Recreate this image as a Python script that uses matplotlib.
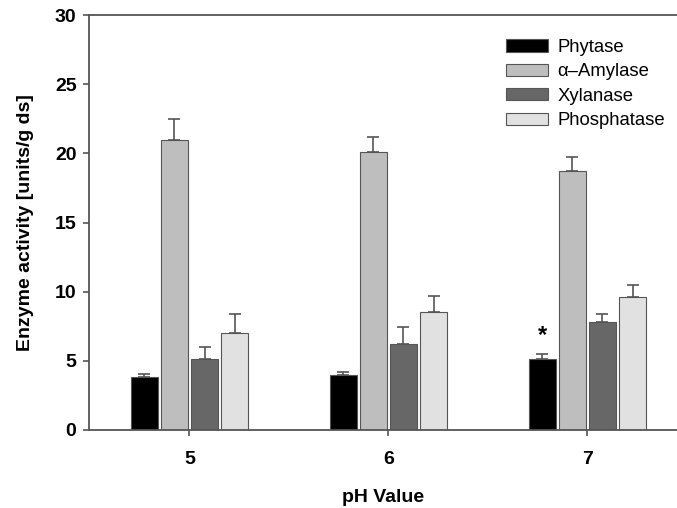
import numpy as np
import matplotlib
matplotlib.use("Agg")
import matplotlib.pyplot as plt

plt.rcParams['font.family'] = ['Liberation Sans', 'DejaVu Sans']

# == 데이터 ====================================================================
ph_values = ['5', '6', '7']
enzymes   = ['Phytase', 'α–Amylase', 'Xylanase', 'Phosphatase']

phytase      = [3.8, 3.95, 5.15]
amylase      = [21.0, 20.1, 18.75]
xylanase     = [5.1, 6.25, 7.8]
phosphatase  = [7.0, 8.55, 9.6]

phytase_err     = [0.25, 0.25, 0.35]
amylase_err     = [1.45, 1.1, 1.0]
xylanase_err    = [0.9, 1.2, 0.55]
phosphatase_err = [1.4, 1.15, 0.9]

colors = ['#000000', '#bebebe', '#676767', '#e1e1e1']

# == 플롯 ======================================================================
fig = plt.figure(figsize=(6.77, 5.08), dpi=100)
ax = fig.add_axes([89/677, 78/508, 1 - 89/677, 415/508])

x = np.arange(len(ph_values))
width = 0.136
step = 0.151
series = [(phytase, phytase_err), (amylase, amylase_err),
          (xylanase, xylanase_err), (phosphatase, phosphatase_err)]
edge = '#555555'
for i, ((vals, errs), color, label) in enumerate(zip(series, colors, enzymes)):
    pos = x + (i - 1.5) * step
    ax.bar(pos, vals, width, color=color, edgecolor=edge, linewidth=0.8, label=label, zorder=2)
    ax.errorbar(pos, vals, yerr=[np.zeros(len(errs)), errs], fmt='none',
                ecolor=edge, elinewidth=1.2, capsize=4, capthick=1.2, zorder=1)

# 유의성 표시 (pH 7, Phytase)
ax.text(x[2] - 1.5 * step, phytase[2] + phytase_err[2] + 1.3, '*',
        ha='center', va='center', fontsize=17, fontweight='bold')

ax.set_xlim(-0.505, 2.45)
ax.set_ylim(0, 30)
ax.set_xticks(x)
ax.set_xticklabels(ph_values)
ax.set_yticks([0, 5, 10, 15, 20, 25, 30])
ax.tick_params(axis='both', direction='out', length=4, width=1.2, color=edge,
               labelsize=14, pad=11)
ax.tick_params(axis='y', pad=5)
for t in ax.get_xticklabels() + ax.get_yticklabels():
    t.set_fontweight('bold')

for s in ['left', 'bottom', 'top']:
    ax.spines[s].set_color(edge)
    ax.spines[s].set_linewidth(1.3)
ax.spines['right'].set_visible(False)

ax.set_xlabel('pH Value', fontsize=14, fontweight='bold', labelpad=15)
ax.set_ylabel('Enzyme activity [units/g ds]', fontsize=14, fontweight='bold', labelpad=15)

fig.legend(loc='upper left', bbox_to_anchor=(506/677, 1 - 39/508), frameon=False,
           fontsize=13.3, handlelength=2.3, handleheight=0.65, handletextpad=0.5,
           labelspacing=0.4, borderpad=0, borderaxespad=0)

plt.savefig('out.png', dpi=100)
plt.close()
